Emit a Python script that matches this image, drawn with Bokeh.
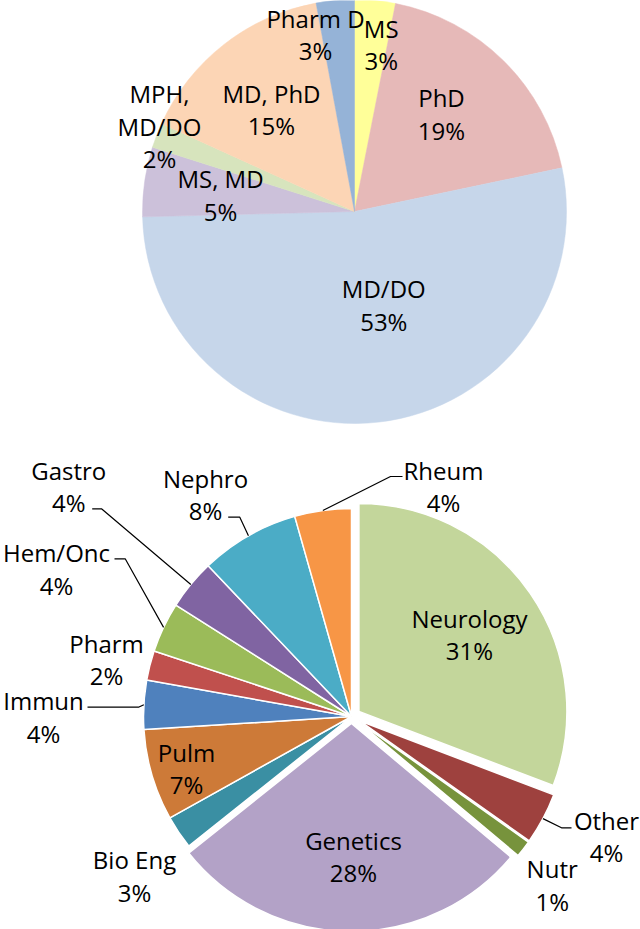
import numpy as np
from bokeh.plotting import figure
from bokeh.models import ColumnDataSource, Range1d
from bokeh.embed import file_html
from bokeh.resources import INLINE
from bokeh.core.properties import value

# ---------------- data ----------------
# Top pie: degrees (clockwise from 12 o'clock), share in %
degree_labels = ["MS", "PhD", "MD/DO", "MS, MD", "MPH,\nMD/DO", "MD, PhD", "Pharm D"]
degree_share = [3.1, 18.6, 52.9, 5.3, 1.9, 15.3, 2.9]

# Bottom pie: specialties (clockwise from 12 o'clock), share in %
specialty_labels = ["Neurology", "Other", "Nutr", "Genetics", "Bio Eng", "Pulm",
                    "Immun", "Pharm", "Hem/Onc", "Gastro", "Nephro", "Rheum"]
specialty_share = [30.8, 4.0, 1.3, 28.2, 2.6, 7.1, 3.8, 2.3, 3.9, 3.9, 7.7, 4.4]

# ---------------- style ----------------
TOP_COLORS = ["#FFFF99", "#E6B9B8", "#C6D6EA", "#CCC1DA", "#D7E4BD", "#FCD5B5", "#95B3D7"]
BOT_COLORS = ["#C3D69B", "#9E413E", "#77933C", "#B3A2C7", "#3A8FA3", "#CD7A38",
              "#4F81BD", "#C0504D", "#9BBB59", "#8064A2", "#4BACC6", "#F79646"]
BOT_EXPLODE = [9, 9, 9, 7, 0, 0, 0, 0, 0, 0, 0, 0]

W, H = 640, 929
FONT = "Open Sans"
FS = "24px"
LH = 32.5

TOP_C = (354, 211)
TOP_R = 212
BOT_C = (351, 716)
BOT_R = 208

# label centre offsets (pixels, y down) from the pie centre
TOP_LBL = [(26.7, -167), (87, -97.3), (29.3, 93.5), (-134, -16.5),
           (-195, -85.3), (-83, -102.2), (-39, -177)]
BOT_LBL = [(118, -82), (255, 120), (200.7, 168.5), (2, 140), (-217, 159.5),
           (-165, 52), (-308, 0.5), (-245, -57), (-295, -147.5),
           (-282.7, -230), (-146, -222), (92, -230)]
# leader lines: points relative to the label centre; the arc point is appended
LEADERS = {
    11: [(-41, -10), (-53, -10)],
    10: [(22.7, 22.7), (34.3, 22.7)],
    9: [(23.4, 22.3), (32.7, 22.3)],
    8: [(58, -10.2), (68.7, -10.2)],
    6: [(44, -9.8), (95, -9.8)],
    1: [(-35, -8.7), (-45, -8.7)],
}


def to_data(rx, ry):
    return rx, H - ry


p = figure(width=W, height=H, output_backend="svg", toolbar_location=None,
           x_range=Range1d(0, W), y_range=Range1d(0, H),
           x_axis_location=None, y_axis_location=None, min_border=0)
p.grid.visible = False
p.outline_line_color = None
p.background_fill_color = "white"
p.border_fill_color = "white"


def pie(labels, share, colors, center, radius, explode, lbl_offsets, border):
    share = np.asarray(share, dtype=float)
    frac = share / share.sum()
    cum_end = np.cumsum(frac)
    cum_start = cum_end - frac
    th0 = cum_start * 2 * np.pi
    th1 = cum_end * 2 * np.pi
    mid = (th0 + th1) / 2
    ex = np.asarray(explode, dtype=float)
    cx, cy = to_data(*center)
    xs = cx + ex * np.sin(mid)
    ys = cy + ex * np.cos(mid)
    src = ColumnDataSource(dict(x=xs, y=ys, start=np.pi / 2 - th0, end=np.pi / 2 - th1,
                                color=colors))
    if border:
        p.wedge(x="x", y="y", radius=radius, start_angle="start", end_angle="end",
                direction="clock", fill_color="color", line_color="white",
                line_width=1.5, source=src)
    else:
        p.wedge(x="x", y="y", radius=radius, start_angle="start", end_angle="end",
                direction="clock", fill_color="color", line_color="color",
                line_width=0.5, source=src)

    tx, ty, tt = [], [], []
    pct = [f"{int(round(s))}%" for s in share]
    for i, lab in enumerate(labels):
        lines = lab.split("\n") + [pct[i]]
        n = len(lines)
        lcx = center[0] + lbl_offsets[i][0]
        lcy = center[1] + lbl_offsets[i][1]
        for k, ln in enumerate(lines):
            ry = lcy + (k - (n - 1) / 2) * LH
            dx, dy = to_data(lcx, ry)
            tx.append(dx)
            ty.append(dy)
            tt.append(ln)
    p.text(x=tx, y=ty, text=tt, text_font=value(FONT), text_font_size=FS,
           text_align="center", text_baseline="middle", text_color="black")
    return mid, xs, ys


mid_t, _, _ = pie(degree_labels, degree_share, TOP_COLORS, TOP_C, TOP_R,
                  [0] * len(degree_share), TOP_LBL, border=False)
mid_b, bx, by = pie(specialty_labels, specialty_share, BOT_COLORS, BOT_C, BOT_R,
                    BOT_EXPLODE, BOT_LBL, border=True)

lx, ly = [], []
for i, pts in LEADERS.items():
    lcx = BOT_C[0] + BOT_LBL[i][0]
    lcy = BOT_C[1] + BOT_LBL[i][1]
    xs_, ys_ = [], []
    for (ox, oy) in pts:
        dx, dy = to_data(lcx + ox, lcy + oy)
        xs_.append(dx)
        ys_.append(dy)
    xs_.append(bx[i] + BOT_R * np.sin(mid_b[i]))
    ys_.append(by[i] + BOT_R * np.cos(mid_b[i]))
    lx.append(xs_)
    ly.append(ys_)
p.multi_line(xs=lx, ys=ly, line_color="black", line_width=1.2)

open("out.html", "w").write(file_html(p, INLINE))
